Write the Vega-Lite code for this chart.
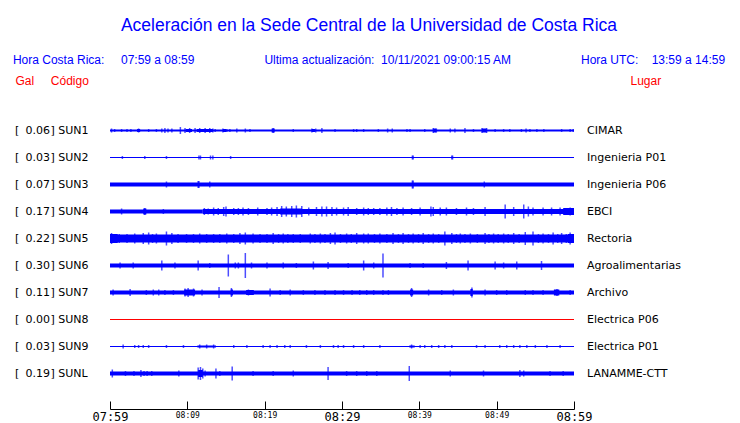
{
  "$schema": "https://vega.github.io/schema/vega-lite/v6.json",
  "width": 464,
  "height": 270,
  "autosize": {"type": "none"},
  "padding": {"left": 110, "top": 117, "right": 166, "bottom": 36},
  "background": "white",
  "config": {"view": {"stroke": null}, "font": "DejaVu Sans"},
  "title": {
    "text": "Aceleración en la Sede Central de la Universidad de Costa Rica",
    "subtitle": "Hora Costa Rica:\u00a0\u00a0\u00a0\u00a0\u00a007:59 a 08:59\u00a0\u00a0\u00a0\u00a0\u00a0\u00a0\u00a0\u00a0\u00a0\u00a0\u00a0\u00a0\u00a0\u00a0\u00a0\u00a0\u00a0\u00a0\u00a0\u00a0\u00a0Ultima actualización:\u00a0\u00a010/11/2021 09:00:15 AM\u00a0\u00a0\u00a0\u00a0\u00a0\u00a0\u00a0\u00a0\u00a0\u00a0\u00a0\u00a0\u00a0\u00a0\u00a0\u00a0\u00a0\u00a0\u00a0\u00a0\u00a0Hora UTC:\u00a0\u00a0\u00a0\u00a013:59 a 14:59",
    "anchor": "middle",
    "frame": "group",
    "dx": 27,
    "offset": 8,
    "font": "Liberation Sans",
    "fontSize": 17.5,
    "fontWeight": "normal",
    "color": "#0000ff",
    "subtitleFont": "Liberation Sans",
    "subtitleFontSize": 12,
    "subtitleColor": "#0000ff",
    "subtitlePadding": 21
  },
  "datasets": {
    "estaciones": [
      {"codigo": "SUN1", "gal": 0.06, "lugar": "CIMAR"},
      {"codigo": "SUN2", "gal": 0.03, "lugar": "Ingenieria P01"},
      {"codigo": "SUN3", "gal": 0.07, "lugar": "Ingenieria P06"},
      {"codigo": "SUN4", "gal": 0.17, "lugar": "EBCI"},
      {"codigo": "SUN5", "gal": 0.22, "lugar": "Rectoria"},
      {"codigo": "SUN6", "gal": 0.30, "lugar": "Agroalimentarias"},
      {"codigo": "SUN7", "gal": 0.11, "lugar": "Archivo"},
      {"codigo": "SUN8", "gal": 0.00, "lugar": "Electrica P06"},
      {"codigo": "SUN9", "gal": 0.03, "lugar": "Electrica P01"},
      {"codigo": "SUNL", "gal": 0.19, "lugar": "LANAMME-CTT"}
    ],
    "segmentos": [
      {"codigo": "SUN1", "t0": 0, "t1": 60, "amp": 2},
      {"codigo": "SUN1", "t0": 3.5, "t1": 3.9, "amp": 3},
      {"codigo": "SUN1", "t0": 9.8, "t1": 10.6, "amp": 3},
      {"codigo": "SUN1", "t0": 11.2, "t1": 13.3, "amp": 3},
      {"codigo": "SUN1", "t0": 14.6, "t1": 15.0, "amp": 3},
      {"codigo": "SUN1", "t0": 20.9, "t1": 21.3, "amp": 4},
      {"codigo": "SUN1", "t0": 26.1, "t1": 26.5, "amp": 3},
      {"codigo": "SUN1", "t0": 41.8, "t1": 42.2, "amp": 4},
      {"codigo": "SUN1", "t0": 48.1, "t1": 48.7, "amp": 4},
      {"codigo": "SUN2", "t0": 0, "t1": 60, "amp": 1},
      {"codigo": "SUN3", "t0": 0, "t1": 60, "amp": 4},
      {"codigo": "SUN4", "t0": 0, "t1": 12, "amp": 4},
      {"codigo": "SUN4", "t0": 4.3, "t1": 4.7, "amp": 6},
      {"codigo": "SUN4", "t0": 12, "t1": 60, "amp": 5},
      {"codigo": "SUN4", "t0": 22.0, "t1": 24.8, "amp": 6},
      {"codigo": "SUN4", "t0": 58.6, "t1": 60, "amp": 7},
      {"codigo": "SUN5", "t0": 0, "t1": 60, "amp": 8},
      {"codigo": "SUN5", "t0": 0, "t1": 1.0, "amp": 9},
      {"codigo": "SUN5", "t0": 59.2, "t1": 60, "amp": 9},
      {"codigo": "SUN6", "t0": 0, "t1": 60, "amp": 4},
      {"codigo": "SUN7", "t0": 0, "t1": 60, "amp": 4},
      {"codigo": "SUN7", "t0": 9.6, "t1": 11.0, "amp": 6},
      {"codigo": "SUN7", "t0": 15.6, "t1": 15.9, "amp": 6},
      {"codigo": "SUN7", "t0": 17.6, "t1": 18.6, "amp": 5},
      {"codigo": "SUN7", "t0": 38.8, "t1": 39.2, "amp": 6},
      {"codigo": "SUN7", "t0": 46.6, "t1": 46.9, "amp": 7},
      {"codigo": "SUN7", "t0": 57.4, "t1": 58.1, "amp": 6},
      {"codigo": "SUN8", "t0": 0, "t1": 60, "amp": 1},
      {"codigo": "SUN9", "t0": 0, "t1": 60, "amp": 1},
      {"codigo": "SUN9", "t0": 11.3, "t1": 13.7, "amp": 2},
      {"codigo": "SUN9", "t0": 38.7, "t1": 39.4, "amp": 2},
      {"codigo": "SUNL", "t0": 0, "t1": 60, "amp": 4},
      {"codigo": "SUNL", "t0": 11.4, "t1": 12.0, "amp": 7}
    ],
    "picos": [
      {"codigo": "SUN1", "t": 0.2, "amp": 4}, {"codigo": "SUN1", "t": 0.6, "amp": 3}, {"codigo": "SUN1", "t": 1.5, "amp": 3},
      {"codigo": "SUN1", "t": 2.2, "amp": 3}, {"codigo": "SUN1", "t": 2.7, "amp": 3}, {"codigo": "SUN1", "t": 3.7, "amp": 4},
      {"codigo": "SUN1", "t": 5.0, "amp": 3}, {"codigo": "SUN1", "t": 6.0, "amp": 3}, {"codigo": "SUN1", "t": 6.7, "amp": 4},
      {"codigo": "SUN1", "t": 7.1, "amp": 5}, {"codigo": "SUN1", "t": 7.5, "amp": 4}, {"codigo": "SUN1", "t": 8.0, "amp": 4},
      {"codigo": "SUN1", "t": 9.1, "amp": 7}, {"codigo": "SUN1", "t": 9.7, "amp": 5}, {"codigo": "SUN1", "t": 10.3, "amp": 5},
      {"codigo": "SUN1", "t": 11.0, "amp": 5}, {"codigo": "SUN1", "t": 11.6, "amp": 5}, {"codigo": "SUN1", "t": 12.3, "amp": 5},
      {"codigo": "SUN1", "t": 12.9, "amp": 5}, {"codigo": "SUN1", "t": 13.3, "amp": 4}, {"codigo": "SUN1", "t": 13.6, "amp": 3},
      {"codigo": "SUN1", "t": 14.6, "amp": 4}, {"codigo": "SUN1", "t": 15.1, "amp": 3}, {"codigo": "SUN1", "t": 15.5, "amp": 3},
      {"codigo": "SUN1", "t": 16.4, "amp": 4}, {"codigo": "SUN1", "t": 17.5, "amp": 4}, {"codigo": "SUN1", "t": 18.1, "amp": 3},
      {"codigo": "SUN1", "t": 21.1, "amp": 5}, {"codigo": "SUN1", "t": 23.7, "amp": 3}, {"codigo": "SUN1", "t": 26.1, "amp": 4},
      {"codigo": "SUN1", "t": 26.6, "amp": 4}, {"codigo": "SUN1", "t": 27.4, "amp": 5}, {"codigo": "SUN1", "t": 29.1, "amp": 3},
      {"codigo": "SUN1", "t": 31.5, "amp": 3}, {"codigo": "SUN1", "t": 31.9, "amp": 3}, {"codigo": "SUN1", "t": 32.8, "amp": 3},
      {"codigo": "SUN1", "t": 34.7, "amp": 3}, {"codigo": "SUN1", "t": 35.9, "amp": 4}, {"codigo": "SUN1", "t": 36.5, "amp": 4},
      {"codigo": "SUN1", "t": 38.4, "amp": 3}, {"codigo": "SUN1", "t": 38.8, "amp": 3}, {"codigo": "SUN1", "t": 40.7, "amp": 3},
      {"codigo": "SUN1", "t": 41.8, "amp": 5}, {"codigo": "SUN1", "t": 42.2, "amp": 4}, {"codigo": "SUN1", "t": 44.0, "amp": 4},
      {"codigo": "SUN1", "t": 44.6, "amp": 4}, {"codigo": "SUN1", "t": 45.9, "amp": 5}, {"codigo": "SUN1", "t": 47.0, "amp": 3},
      {"codigo": "SUN1", "t": 48.1, "amp": 5}, {"codigo": "SUN1", "t": 48.7, "amp": 5}, {"codigo": "SUN1", "t": 49.8, "amp": 3},
      {"codigo": "SUN1", "t": 50.9, "amp": 3}, {"codigo": "SUN1", "t": 51.7, "amp": 3}, {"codigo": "SUN1", "t": 53.2, "amp": 3},
      {"codigo": "SUN1", "t": 53.8, "amp": 4}, {"codigo": "SUN1", "t": 54.3, "amp": 3}, {"codigo": "SUN1", "t": 55.2, "amp": 3},
      {"codigo": "SUN1", "t": 56.1, "amp": 3}, {"codigo": "SUN1", "t": 58.4, "amp": 3}, {"codigo": "SUN1", "t": 59.5, "amp": 3},
      {"codigo": "SUN1", "t": 59.9, "amp": 3},

      {"codigo": "SUN2", "t": 1.6, "amp": 3}, {"codigo": "SUN2", "t": 4.5, "amp": 3}, {"codigo": "SUN2", "t": 7.3, "amp": 3},
      {"codigo": "SUN2", "t": 11.5, "amp": 4}, {"codigo": "SUN2", "t": 11.7, "amp": 4}, {"codigo": "SUN2", "t": 13.0, "amp": 4},
      {"codigo": "SUN2", "t": 13.3, "amp": 4}, {"codigo": "SUN2", "t": 15.6, "amp": 3}, {"codigo": "SUN2", "t": 39.1, "amp": 4},
      {"codigo": "SUN2", "t": 39.2, "amp": 4}, {"codigo": "SUN2", "t": 44.2, "amp": 4}, {"codigo": "SUN2", "t": 44.3, "amp": 4},

      {"codigo": "SUN3", "t": 7.3, "amp": 6}, {"codigo": "SUN3", "t": 11.4, "amp": 7}, {"codigo": "SUN3", "t": 11.5, "amp": 7},
      {"codigo": "SUN3", "t": 12.9, "amp": 6}, {"codigo": "SUN3", "t": 39.1, "amp": 8}, {"codigo": "SUN3", "t": 39.2, "amp": 8},
      {"codigo": "SUN3", "t": 48.4, "amp": 6},

      {"codigo": "SUN4", "t": 1.5, "amp": 6}, {"codigo": "SUN4", "t": 4.5, "amp": 7}, {"codigo": "SUN4", "t": 6.9, "amp": 5},
      {"codigo": "SUN4", "t": 12.2, "amp": 7}, {"codigo": "SUN4", "t": 12.7, "amp": 6}, {"codigo": "SUN4", "t": 13.4, "amp": 8},
      {"codigo": "SUN4", "t": 14.0, "amp": 7}, {"codigo": "SUN4", "t": 14.7, "amp": 9}, {"codigo": "SUN4", "t": 15.0, "amp": 10},
      {"codigo": "SUN4", "t": 16.0, "amp": 7}, {"codigo": "SUN4", "t": 16.6, "amp": 7}, {"codigo": "SUN4", "t": 17.2, "amp": 8},
      {"codigo": "SUN4", "t": 17.9, "amp": 7}, {"codigo": "SUN4", "t": 19.1, "amp": 8}, {"codigo": "SUN4", "t": 20.3, "amp": 7},
      {"codigo": "SUN4", "t": 20.9, "amp": 8}, {"codigo": "SUN4", "t": 21.6, "amp": 9}, {"codigo": "SUN4", "t": 22.2, "amp": 11},
      {"codigo": "SUN4", "t": 22.8, "amp": 10}, {"codigo": "SUN4", "t": 23.5, "amp": 11}, {"codigo": "SUN4", "t": 24.1, "amp": 12},
      {"codigo": "SUN4", "t": 24.8, "amp": 11}, {"codigo": "SUN4", "t": 25.7, "amp": 8}, {"codigo": "SUN4", "t": 26.7, "amp": 9},
      {"codigo": "SUN4", "t": 27.4, "amp": 10}, {"codigo": "SUN4", "t": 28.0, "amp": 10}, {"codigo": "SUN4", "t": 28.7, "amp": 9},
      {"codigo": "SUN4", "t": 29.3, "amp": 8}, {"codigo": "SUN4", "t": 30.2, "amp": 8}, {"codigo": "SUN4", "t": 30.8, "amp": 9},
      {"codigo": "SUN4", "t": 31.9, "amp": 7}, {"codigo": "SUN4", "t": 32.8, "amp": 8}, {"codigo": "SUN4", "t": 33.4, "amp": 7},
      {"codigo": "SUN4", "t": 34.1, "amp": 7}, {"codigo": "SUN4", "t": 34.9, "amp": 7}, {"codigo": "SUN4", "t": 35.8, "amp": 8},
      {"codigo": "SUN4", "t": 36.4, "amp": 9}, {"codigo": "SUN4", "t": 37.1, "amp": 7}, {"codigo": "SUN4", "t": 37.9, "amp": 8},
      {"codigo": "SUN4", "t": 39.0, "amp": 7}, {"codigo": "SUN4", "t": 40.1, "amp": 8}, {"codigo": "SUN4", "t": 41.5, "amp": 10},
      {"codigo": "SUN4", "t": 41.8, "amp": 9}, {"codigo": "SUN4", "t": 42.7, "amp": 8}, {"codigo": "SUN4", "t": 43.5, "amp": 8},
      {"codigo": "SUN4", "t": 44.8, "amp": 7}, {"codigo": "SUN4", "t": 46.1, "amp": 8}, {"codigo": "SUN4", "t": 47.0, "amp": 7},
      {"codigo": "SUN4", "t": 48.5, "amp": 9}, {"codigo": "SUN4", "t": 51.1, "amp": 14}, {"codigo": "SUN4", "t": 52.2, "amp": 9},
      {"codigo": "SUN4", "t": 53.5, "amp": 14}, {"codigo": "SUN4", "t": 54.1, "amp": 10}, {"codigo": "SUN4", "t": 54.7, "amp": 8},
      {"codigo": "SUN4", "t": 56.0, "amp": 8}, {"codigo": "SUN4", "t": 57.1, "amp": 8}, {"codigo": "SUN4", "t": 58.2, "amp": 8},
      {"codigo": "SUN4", "t": 59.5, "amp": 8},

      {"codigo": "SUN5", "t": 0.2, "amp": 11}, {"codigo": "SUN5", "t": 1.2, "amp": 9}, {"codigo": "SUN5", "t": 2.2, "amp": 9},
      {"codigo": "SUN5", "t": 3.2, "amp": 10}, {"codigo": "SUN5", "t": 4.3, "amp": 11}, {"codigo": "SUN5", "t": 5.0, "amp": 12},
      {"codigo": "SUN5", "t": 5.5, "amp": 9}, {"codigo": "SUN5", "t": 6.0, "amp": 10}, {"codigo": "SUN5", "t": 7.3, "amp": 14},
      {"codigo": "SUN5", "t": 8.0, "amp": 11}, {"codigo": "SUN5", "t": 8.8, "amp": 9}, {"codigo": "SUN5", "t": 9.9, "amp": 9},
      {"codigo": "SUN5", "t": 10.8, "amp": 9}, {"codigo": "SUN5", "t": 11.6, "amp": 10}, {"codigo": "SUN5", "t": 12.5, "amp": 9},
      {"codigo": "SUN5", "t": 13.4, "amp": 9}, {"codigo": "SUN5", "t": 14.2, "amp": 9}, {"codigo": "SUN5", "t": 15.1, "amp": 10},
      {"codigo": "SUN5", "t": 16.0, "amp": 9}, {"codigo": "SUN5", "t": 16.8, "amp": 11}, {"codigo": "SUN5", "t": 17.5, "amp": 12},
      {"codigo": "SUN5", "t": 18.5, "amp": 10}, {"codigo": "SUN5", "t": 19.4, "amp": 9}, {"codigo": "SUN5", "t": 20.3, "amp": 9},
      {"codigo": "SUN5", "t": 21.1, "amp": 11}, {"codigo": "SUN5", "t": 21.8, "amp": 9}, {"codigo": "SUN5", "t": 22.4, "amp": 10},
      {"codigo": "SUN5", "t": 23.0, "amp": 9}, {"codigo": "SUN5", "t": 23.7, "amp": 9}, {"codigo": "SUN5", "t": 24.6, "amp": 9},
      {"codigo": "SUN5", "t": 25.9, "amp": 10}, {"codigo": "SUN5", "t": 26.5, "amp": 9}, {"codigo": "SUN5", "t": 27.2, "amp": 10},
      {"codigo": "SUN5", "t": 27.8, "amp": 9}, {"codigo": "SUN5", "t": 28.5, "amp": 11}, {"codigo": "SUN5", "t": 29.1, "amp": 12},
      {"codigo": "SUN5", "t": 29.8, "amp": 9}, {"codigo": "SUN5", "t": 30.6, "amp": 10}, {"codigo": "SUN5", "t": 31.2, "amp": 9},
      {"codigo": "SUN5", "t": 31.9, "amp": 11}, {"codigo": "SUN5", "t": 32.8, "amp": 10}, {"codigo": "SUN5", "t": 33.4, "amp": 10},
      {"codigo": "SUN5", "t": 34.2, "amp": 9}, {"codigo": "SUN5", "t": 34.9, "amp": 10}, {"codigo": "SUN5", "t": 35.8, "amp": 9},
      {"codigo": "SUN5", "t": 36.6, "amp": 11}, {"codigo": "SUN5", "t": 37.3, "amp": 9}, {"codigo": "SUN5", "t": 37.9, "amp": 11},
      {"codigo": "SUN5", "t": 38.6, "amp": 9}, {"codigo": "SUN5", "t": 39.2, "amp": 10}, {"codigo": "SUN5", "t": 39.9, "amp": 9},
      {"codigo": "SUN5", "t": 40.5, "amp": 11}, {"codigo": "SUN5", "t": 41.2, "amp": 9}, {"codigo": "SUN5", "t": 41.8, "amp": 10},
      {"codigo": "SUN5", "t": 42.5, "amp": 9}, {"codigo": "SUN5", "t": 43.3, "amp": 14}, {"codigo": "SUN5", "t": 44.2, "amp": 11},
      {"codigo": "SUN5", "t": 44.8, "amp": 9}, {"codigo": "SUN5", "t": 45.3, "amp": 10}, {"codigo": "SUN5", "t": 45.9, "amp": 9},
      {"codigo": "SUN5", "t": 46.6, "amp": 10}, {"codigo": "SUN5", "t": 47.5, "amp": 9}, {"codigo": "SUN5", "t": 48.5, "amp": 11},
      {"codigo": "SUN5", "t": 49.0, "amp": 9}, {"codigo": "SUN5", "t": 49.6, "amp": 10}, {"codigo": "SUN5", "t": 50.2, "amp": 9},
      {"codigo": "SUN5", "t": 50.9, "amp": 10}, {"codigo": "SUN5", "t": 51.5, "amp": 9}, {"codigo": "SUN5", "t": 52.2, "amp": 11},
      {"codigo": "SUN5", "t": 52.9, "amp": 9}, {"codigo": "SUN5", "t": 53.7, "amp": 13}, {"codigo": "SUN5", "t": 54.7, "amp": 14},
      {"codigo": "SUN5", "t": 55.4, "amp": 9}, {"codigo": "SUN5", "t": 56.0, "amp": 10}, {"codigo": "SUN5", "t": 56.7, "amp": 9},
      {"codigo": "SUN5", "t": 57.3, "amp": 12}, {"codigo": "SUN5", "t": 57.9, "amp": 9}, {"codigo": "SUN5", "t": 58.4, "amp": 11},
      {"codigo": "SUN5", "t": 59.0, "amp": 9}, {"codigo": "SUN5", "t": 59.5, "amp": 12},

      {"codigo": "SUN6", "t": 1.3, "amp": 6}, {"codigo": "SUN6", "t": 3.0, "amp": 6}, {"codigo": "SUN6", "t": 6.7, "amp": 10},
      {"codigo": "SUN6", "t": 8.4, "amp": 6}, {"codigo": "SUN6", "t": 11.4, "amp": 10}, {"codigo": "SUN6", "t": 12.9, "amp": 5},
      {"codigo": "SUN6", "t": 15.3, "amp": 22}, {"codigo": "SUN6", "t": 16.2, "amp": 6}, {"codigo": "SUN6", "t": 16.6, "amp": 6},
      {"codigo": "SUN6", "t": 17.5, "amp": 25}, {"codigo": "SUN6", "t": 18.3, "amp": 6}, {"codigo": "SUN6", "t": 20.3, "amp": 6},
      {"codigo": "SUN6", "t": 22.4, "amp": 6}, {"codigo": "SUN6", "t": 24.1, "amp": 5}, {"codigo": "SUN6", "t": 26.3, "amp": 8},
      {"codigo": "SUN6", "t": 28.2, "amp": 7}, {"codigo": "SUN6", "t": 30.8, "amp": 5}, {"codigo": "SUN6", "t": 32.8, "amp": 10},
      {"codigo": "SUN6", "t": 34.1, "amp": 6}, {"codigo": "SUN6", "t": 35.3, "amp": 24}, {"codigo": "SUN6", "t": 38.8, "amp": 5},
      {"codigo": "SUN6", "t": 40.5, "amp": 5}, {"codigo": "SUN6", "t": 43.5, "amp": 7}, {"codigo": "SUN6", "t": 46.3, "amp": 10},
      {"codigo": "SUN6", "t": 49.8, "amp": 8}, {"codigo": "SUN6", "t": 50.9, "amp": 6}, {"codigo": "SUN6", "t": 52.6, "amp": 8},
      {"codigo": "SUN6", "t": 55.8, "amp": 9},

      {"codigo": "SUN7", "t": 0.4, "amp": 6}, {"codigo": "SUN7", "t": 2.6, "amp": 7}, {"codigo": "SUN7", "t": 4.7, "amp": 5},
      {"codigo": "SUN7", "t": 5.6, "amp": 6}, {"codigo": "SUN7", "t": 6.3, "amp": 6}, {"codigo": "SUN7", "t": 7.1, "amp": 5},
      {"codigo": "SUN7", "t": 8.2, "amp": 5}, {"codigo": "SUN7", "t": 9.7, "amp": 8}, {"codigo": "SUN7", "t": 10.1, "amp": 9},
      {"codigo": "SUN7", "t": 10.8, "amp": 8}, {"codigo": "SUN7", "t": 11.9, "amp": 6}, {"codigo": "SUN7", "t": 14.1, "amp": 11},
      {"codigo": "SUN7", "t": 15.7, "amp": 9}, {"codigo": "SUN7", "t": 17.9, "amp": 6}, {"codigo": "SUN7", "t": 20.7, "amp": 8},
      {"codigo": "SUN7", "t": 22.0, "amp": 5}, {"codigo": "SUN7", "t": 23.3, "amp": 6}, {"codigo": "SUN7", "t": 25.0, "amp": 5},
      {"codigo": "SUN7", "t": 26.5, "amp": 5}, {"codigo": "SUN7", "t": 27.8, "amp": 5}, {"codigo": "SUN7", "t": 29.1, "amp": 5},
      {"codigo": "SUN7", "t": 30.2, "amp": 5}, {"codigo": "SUN7", "t": 31.3, "amp": 5}, {"codigo": "SUN7", "t": 32.3, "amp": 5},
      {"codigo": "SUN7", "t": 33.2, "amp": 5}, {"codigo": "SUN7", "t": 34.1, "amp": 5}, {"codigo": "SUN7", "t": 35.3, "amp": 5},
      {"codigo": "SUN7", "t": 36.0, "amp": 5}, {"codigo": "SUN7", "t": 39.0, "amp": 9}, {"codigo": "SUN7", "t": 41.2, "amp": 6},
      {"codigo": "SUN7", "t": 42.9, "amp": 5}, {"codigo": "SUN7", "t": 44.4, "amp": 6}, {"codigo": "SUN7", "t": 46.8, "amp": 10},
      {"codigo": "SUN7", "t": 48.5, "amp": 6}, {"codigo": "SUN7", "t": 50.0, "amp": 5}, {"codigo": "SUN7", "t": 51.3, "amp": 5},
      {"codigo": "SUN7", "t": 53.7, "amp": 5}, {"codigo": "SUN7", "t": 54.7, "amp": 5}, {"codigo": "SUN7", "t": 56.0, "amp": 5},
      {"codigo": "SUN7", "t": 57.8, "amp": 7}, {"codigo": "SUN7", "t": 59.5, "amp": 5},

      {"codigo": "SUN9", "t": 1.7, "amp": 4}, {"codigo": "SUN9", "t": 3.2, "amp": 3}, {"codigo": "SUN9", "t": 3.7, "amp": 3},
      {"codigo": "SUN9", "t": 4.3, "amp": 3}, {"codigo": "SUN9", "t": 5.0, "amp": 3}, {"codigo": "SUN9", "t": 7.3, "amp": 3},
      {"codigo": "SUN9", "t": 9.5, "amp": 3}, {"codigo": "SUN9", "t": 11.6, "amp": 4}, {"codigo": "SUN9", "t": 12.5, "amp": 4},
      {"codigo": "SUN9", "t": 13.4, "amp": 4}, {"codigo": "SUN9", "t": 16.0, "amp": 3}, {"codigo": "SUN9", "t": 17.7, "amp": 3},
      {"codigo": "SUN9", "t": 19.8, "amp": 3}, {"codigo": "SUN9", "t": 20.7, "amp": 3}, {"codigo": "SUN9", "t": 21.6, "amp": 3},
      {"codigo": "SUN9", "t": 22.6, "amp": 3}, {"codigo": "SUN9", "t": 23.3, "amp": 3}, {"codigo": "SUN9", "t": 25.4, "amp": 3},
      {"codigo": "SUN9", "t": 27.2, "amp": 3}, {"codigo": "SUN9", "t": 28.9, "amp": 3}, {"codigo": "SUN9", "t": 29.5, "amp": 3},
      {"codigo": "SUN9", "t": 30.2, "amp": 3}, {"codigo": "SUN9", "t": 31.5, "amp": 3}, {"codigo": "SUN9", "t": 32.8, "amp": 3},
      {"codigo": "SUN9", "t": 34.9, "amp": 3}, {"codigo": "SUN9", "t": 39.0, "amp": 4}, {"codigo": "SUN9", "t": 40.1, "amp": 3},
      {"codigo": "SUN9", "t": 40.7, "amp": 3}, {"codigo": "SUN9", "t": 41.6, "amp": 3}, {"codigo": "SUN9", "t": 42.5, "amp": 3},
      {"codigo": "SUN9", "t": 43.3, "amp": 3}, {"codigo": "SUN9", "t": 44.2, "amp": 3}, {"codigo": "SUN9", "t": 47.4, "amp": 3},
      {"codigo": "SUN9", "t": 48.5, "amp": 3}, {"codigo": "SUN9", "t": 50.4, "amp": 3}, {"codigo": "SUN9", "t": 51.3, "amp": 3},
      {"codigo": "SUN9", "t": 52.2, "amp": 3}, {"codigo": "SUN9", "t": 53.0, "amp": 3}, {"codigo": "SUN9", "t": 53.9, "amp": 3},
      {"codigo": "SUN9", "t": 55.0, "amp": 3}, {"codigo": "SUN9", "t": 56.5, "amp": 3}, {"codigo": "SUN9", "t": 58.2, "amp": 3},

      {"codigo": "SUNL", "t": 0.3, "amp": 8}, {"codigo": "SUNL", "t": 2.0, "amp": 5}, {"codigo": "SUNL", "t": 3.1, "amp": 5},
      {"codigo": "SUNL", "t": 4.0, "amp": 7}, {"codigo": "SUNL", "t": 4.4, "amp": 5}, {"codigo": "SUNL", "t": 4.8, "amp": 5},
      {"codigo": "SUNL", "t": 5.4, "amp": 5}, {"codigo": "SUNL", "t": 8.9, "amp": 6}, {"codigo": "SUNL", "t": 11.4, "amp": 12},
      {"codigo": "SUNL", "t": 11.7, "amp": 13}, {"codigo": "SUNL", "t": 12.0, "amp": 10}, {"codigo": "SUNL", "t": 12.3, "amp": 6},
      {"codigo": "SUNL", "t": 13.7, "amp": 10}, {"codigo": "SUNL", "t": 14.2, "amp": 5}, {"codigo": "SUNL", "t": 15.8, "amp": 14},
      {"codigo": "SUNL", "t": 18.5, "amp": 5}, {"codigo": "SUNL", "t": 21.1, "amp": 5}, {"codigo": "SUNL", "t": 23.7, "amp": 6},
      {"codigo": "SUNL", "t": 28.2, "amp": 13}, {"codigo": "SUNL", "t": 30.6, "amp": 5}, {"codigo": "SUNL", "t": 31.9, "amp": 5},
      {"codigo": "SUNL", "t": 33.2, "amp": 5}, {"codigo": "SUNL", "t": 34.5, "amp": 5}, {"codigo": "SUNL", "t": 38.7, "amp": 15},
      {"codigo": "SUNL", "t": 44.0, "amp": 6}, {"codigo": "SUNL", "t": 48.3, "amp": 6}, {"codigo": "SUNL", "t": 53.0, "amp": 7},
      {"codigo": "SUNL", "t": 53.5, "amp": 6}, {"codigo": "SUNL", "t": 56.9, "amp": 5}, {"codigo": "SUNL", "t": 58.6, "amp": 5}
    ]
  },
  "layer": [
    {
      "data": {"name": "segmentos"},
      "transform": [
        {"lookup": "codigo", "from": {"data": {"name": "estaciones"}, "key": "codigo", "fields": ["gal"]}}
      ],
      "mark": {"type": "bar", "orient": "horizontal", "stroke": null},
      "encoding": {
        "x": {
          "field": "t0", "type": "quantitative", "title": null,
          "scale": {"domain": [0, 60], "nice": false, "zero": false},
          "axis": {
            "values": [0, 5, 10, 15, 20, 25, 30, 35, 40, 45, 50, 55, 60],
            "labelExpr": "datum.value % 10 == 0 ? timeFormat(datetime(2021, 9, 11, 7, 59 + datum.value), '%H:%M') : ''",
            "labelFontSize": {"condition": {"test": "datum.value % 30 == 0", "value": 12}, "value": 8},
            "labelFont": "DejaVu Sans Mono",
            "labelColor": "black",
            "labelOverlap": false,
            "labelFlush": false,
            "labelBound": false,
            "labelPadding": 10,
            "tickSize": -8,
            "tickColor": "black",
            "domainColor": "black",
            "offset": 22,
            "grid": false,
            "title": null
          }
        },
        "x2": {"field": "t1"},
        "y": {
          "field": "codigo", "type": "nominal", "title": "Gal\u00a0\u00a0\u00a0\u00a0\u00a0Código",
          "scale": {"paddingInner": 0, "paddingOuter": 0},
          "axis": {
            "labelExpr": "'] ' + datum.value",
            "labelAlign": "left",
            "labelPadding": 60,
            "labelFont": "DejaVu Sans",
            "labelFontSize": 11,
            "labelColor": "black",
            "domain": false,
            "ticks": false,
            "grid": false,
            "titleAngle": 0,
            "titleAlign": "left",
            "titleBaseline": "middle",
            "titleX": -95,
            "titleY": -37,
            "titleFont": "Liberation Sans",
            "titleFontSize": 12,
            "titleFontWeight": "normal",
            "titleColor": "#ff0000"
          }
        },
        "size": {"field": "amp", "type": "quantitative", "legend": null, "scale": {"type": "linear", "domain": [0, 30], "range": [0, 30], "zero": true}},
        "color": {"condition": {"test": "datum.gal === 0", "value": "#ff0000"}, "value": "#0000ff"}
      }
    },
    {
      "data": {"name": "picos"},
      "mark": {"type": "tick", "thickness": 1.5},
      "encoding": {
        "x": {"field": "t", "type": "quantitative", "title": null},
        "y": {"field": "codigo", "type": "nominal", "axis": null},
        "size": {"field": "amp", "type": "quantitative", "legend": null},
        "color": {"value": "#0000ff"}
      }
    },
    {
      "data": {"name": "estaciones"},
      "mark": {"type": "text", "align": "left", "baseline": "middle", "dx": -95, "font": "DejaVu Sans", "fontSize": 11, "color": "black"},
      "encoding": {
        "x": {"datum": 0, "type": "quantitative", "title": null},
        "y": {"field": "codigo", "type": "nominal", "axis": null},
        "text": {"value": "["}
      }
    },
    {
      "data": {"name": "estaciones"},
      "mark": {"type": "text", "align": "right", "baseline": "middle", "dx": -60, "font": "DejaVu Sans", "fontSize": 11, "color": "black"},
      "encoding": {
        "x": {"datum": 0, "type": "quantitative", "title": null},
        "y": {"field": "codigo", "type": "nominal", "axis": null},
        "text": {"field": "gal", "type": "quantitative", "format": ".2f"}
      }
    },
    {
      "data": {"name": "estaciones"},
      "mark": {"type": "text", "align": "left", "baseline": "middle", "dx": 13, "font": "DejaVu Sans", "fontSize": 11, "color": "black"},
      "encoding": {
        "x": {"datum": 60, "type": "quantitative", "title": null},
        "y": {
          "field": "codigo", "type": "nominal", "title": "Lugar",
          "axis": {
            "orient": "right",
            "labels": false,
            "ticks": false,
            "domain": false,
            "grid": false,
            "titleAngle": 0,
            "titleAlign": "left",
            "titleBaseline": "middle",
            "titleX": 56,
            "titleY": -37,
            "titleFont": "Liberation Sans",
            "titleFontSize": 12,
            "titleFontWeight": "normal",
            "titleColor": "#ff0000"
          }
        },
        "text": {"field": "lugar", "type": "nominal"}
      }
    }
  ],
  "resolve": {"axis": {"y": "independent"}}
}
